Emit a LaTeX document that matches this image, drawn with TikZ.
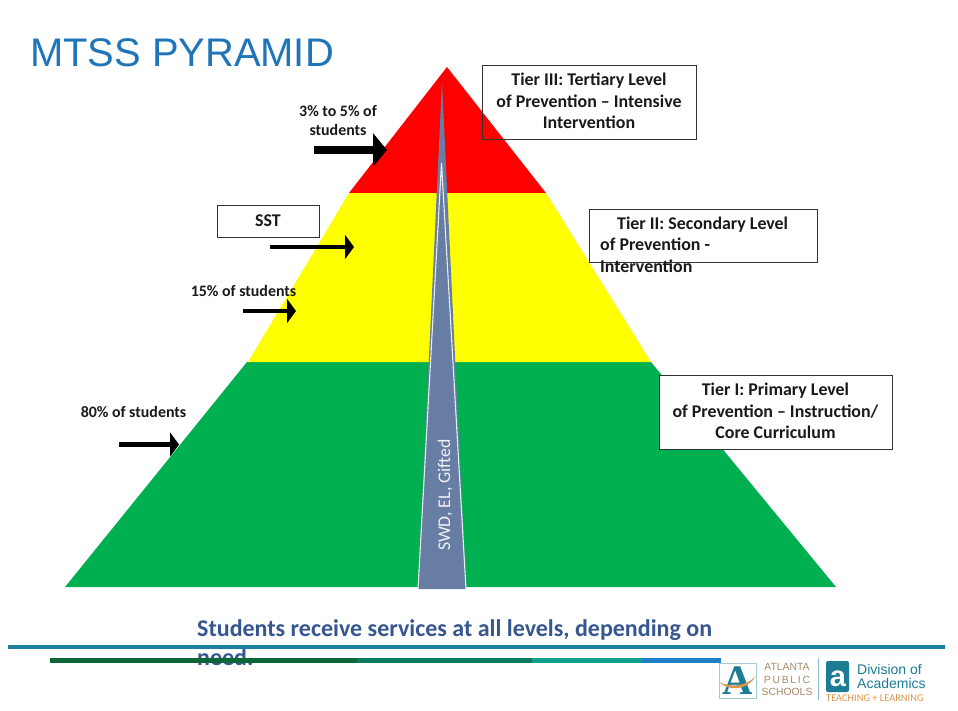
\documentclass[tikz,border=0pt]{standalone}
\usepackage{fontspec}
\setmainfont{Carlito}
\newfontfamily\titlefont{Liberation Sans}
\newfontfamily\logoserif{Liberation Serif}
\usetikzlibrary{arrows.meta}
\definecolor{pyrred}{HTML}{FF0000}
\definecolor{pyryellow}{HTML}{FFFF00}
\definecolor{pyrgreen}{HTML}{00B050}
\definecolor{wedgeblue}{HTML}{677DA3}
\definecolor{titleblue}{HTML}{1F75B8}
\definecolor{footblue}{HTML}{35568F}
\definecolor{ruleteal}{HTML}{1C7F9E}
\definecolor{logoteal}{HTML}{1B7C94}
\definecolor{logoorange}{HTML}{D9964A}
\definecolor{barone}{HTML}{0B6638}
\definecolor{bartwo}{HTML}{0A7A5C}
\definecolor{barthree}{HTML}{0FA08F}
\definecolor{barfour}{HTML}{1E80C8}
\tikzset{
  tierbox/.style={draw=black!80,line width=0.9pt,inner sep=0pt},
  boxtext/.style={font=\fontsize{17.9}{21.6}\selectfont\bfseries,align=center,text=black!90},
  pcttext/.style={font=\fontsize{15.9}{19}\selectfont\bfseries,align=center,text=black!90},
  logotext/.style={font=\titlefont\fontsize{10.4}{11}\selectfont,text=logoorange!45!gray,inner sep=0pt},
  acadtext/.style={font=\titlefont\fontsize{14}{12}\selectfont,text=logoteal,anchor=west,inner sep=0pt},
  fatarrow/.style={line width=8pt,-{Triangle[length=14pt,width=33pt]}},
  thinarrow/.style={line width=4.6pt,-{Triangle[length=9pt,width=24pt]}}
}
\begin{document}
\begin{tikzpicture}[x=1pt,y=-1pt]
  \useasboundingbox (0,0) rectangle (958,711);
  \node[anchor=west,inner sep=0pt,text=titleblue,font=\titlefont\fontsize{39.9}{40}\selectfont] (title) at (30,53) {MTSS PYRAMID};
  \fill[pyrgreen] (247,362) -- (651,362) -- (836,587) -- (65,587) -- cycle;
  \fill[pyryellow] (349,193) -- (546,193) -- (651,362) -- (248,362) -- cycle;
  \fill[pyrred] (447,67) -- (546,193) -- (349,193) -- cycle;
  \fill[wedgeblue] (442,82) -- (466,589) -- (418,589) -- cycle;
  \draw[white!85!wedgeblue,line width=1.1pt] (418,589) -- (441.5,163) -- (466,589);
  \node[rotate=90,text=white!90!wedgeblue,font=\fontsize{17.8}{18}\selectfont] (swd) at (445,495) {SWD, EL, Gifted};
  \node[tierbox,minimum width=214pt,minimum height=74pt] (tierthree) at (589,102) {};
  \node[boxtext] (tierthreetext) at (589,101) {Tier III: Tertiary Level\\of Prevention – Intensive\\Intervention};
  \node[tierbox,fill=white,minimum width=228pt,minimum height=53pt] (tiertwo) at (703,235.5) {};
  \node[boxtext,align=left,anchor=north west,inner sep=0pt] (tiertwotext) at (600,216.5) {\hspace*{17pt}Tier II: Secondary Level\\of Prevention -\\Intervention};
  \node[tierbox,fill=white,minimum width=233pt,minimum height=74pt] (tierone) at (775.5,412) {};
  \node[boxtext] (tieronetext) at (775.5,411) {Tier I: Primary Level\\of Prevention – Instruction/\\Core Curriculum};
  \node[tierbox,fill=white,minimum width=102pt,minimum height=32pt,boxtext] (sst) at (268,221) {SST};
  \node[pcttext] (pctthree) at (338,120.5) {3\% to 5\% of\\students};
  \node[pcttext] (pcttwo) at (243.5,291) {15\% of students};
  \node[pcttext] (pctone) at (133.5,412) {80\% of students};
  \coordinate (arrthreestart) at (314,150);
  \coordinate (arrthreeend) at (387,150);
  \coordinate (arrsststart) at (270,247);
  \coordinate (arrsstend) at (354,247);
  \coordinate (arrtwostart) at (243,311);
  \coordinate (arrtwoend) at (296,311);
  \coordinate (arronestart) at (119,444.5);
  \coordinate (arroneend) at (179,444.5);
  \draw[fatarrow] (arrthreestart) -- (arrthreeend);
  \draw[thinarrow] (arrsststart) -- (arrsstend);
  \draw[thinarrow] (arrtwostart) -- (arrtwoend);
  \draw[thinarrow] (arronestart) -- (arroneend);
  \node[anchor=north west,inner sep=0pt,align=left,text=footblue,font=\fontsize{24}{29}\selectfont\bfseries] (foot) at (197,619) {Students receive services at all levels, depending on\\need.};
  \fill[ruleteal] (8,645) rectangle (945,649);
  \fill[barone] (50,658) rectangle (357,662.5);
  \fill[bartwo] (357,658) rectangle (532,662.5);
  \fill[barthree] (532,658) rectangle (642,662.5);
  \fill[barfour] (642,658) rectangle (721,662.5);
  \draw[logoteal!40,line width=0.8pt] (719,663) rectangle (756,698);
  \node[inner sep=0pt,text=logoteal,font=\logoserif\bfseries\fontsize{42}{42}\selectfont] (logoa) at (737.5,681) {A};
  \fill[logoorange] (719,682) .. controls (732,688) and (745,686) .. (755,677) .. controls (747,690) and (730,692) .. (719,682);
  \node[logotext] (atlanta) at (787,666.5) {ATLANTA};
  \node[logotext] (public) at (787,679.5) {P\,U\,B\,L\,I\,C};
  \node[logotext] (schools) at (787,692) {SCHOOLS};
  \draw[logoteal!50,line width=0.8pt] (818,658) -- (818,700);
  \fill[logoteal,rounded corners=2pt] (826,661) rectangle (849,692);
  \node[inner sep=0pt,text=white,font=\titlefont\bfseries\fontsize{29}{29}\selectfont] (booka) at (838,679) {a};
  \node[acadtext] (division) at (857,669) {Division of};
  \node[acadtext] (academics) at (857,683) {Academics};
  \node[anchor=west,inner sep=0pt,text=logoorange,font=\fontsize{10.4}{10}\selectfont] (teaching) at (826,698) {TEACHING + LEARNING};
\end{tikzpicture}
\end{document}
